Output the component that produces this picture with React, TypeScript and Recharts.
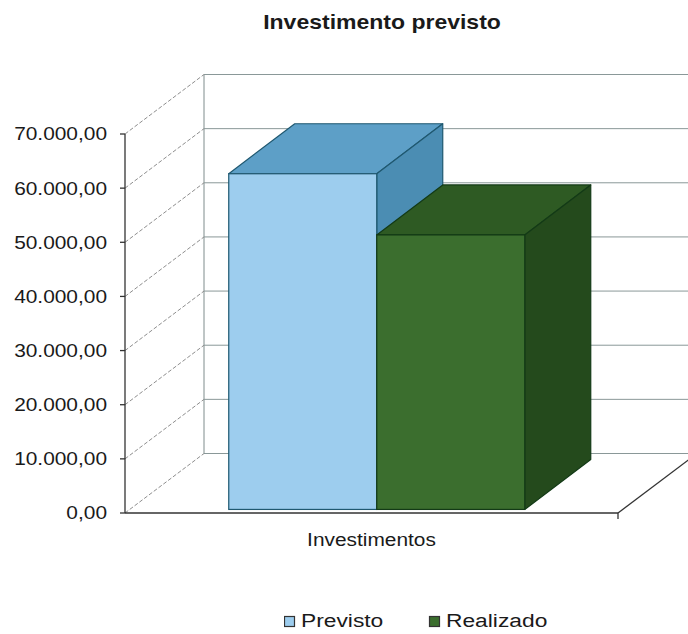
import React from 'react';
import { BarChart, Bar, XAxis, YAxis, CartesianGrid, Legend } from 'recharts';

// ---- data ----
const chartTitle = 'Investimento previsto';
const categories = ['Investimentos'];
const previstoValues = [62000];
const realizadoValues = [50700];
const yTicks = [0, 10000, 20000, 30000, 40000, 50000, 60000, 70000];
const seriesNames = ['Previsto', 'Realizado'];

const data = categories.map((c, i) => ({
  name: c,
  [seriesNames[0]]: previstoValues[i],
  [seriesNames[1]]: realizadoValues[i],
}));

// ---- styling constants (3D look) ----
const WALL_DX = 79;
const WALL_DY = 59.5;
const BAR_DX = 66;
const BAR_DY = 50;
const BAR_SHIFT = 0.06;
const FONT = '"Liberation Sans", Arial, sans-serif';
const TEXT = '#1a1a1a';

const fmt = (v: number) =>
  Math.round(v).toString().replace(/\B(?=(\d{3})+(?!\d))/g, '.') + ',00';

const gridLine = (p: any) => {
  const { x1, y1, x2, index } = p;
  const pts: number[] | undefined = p.horizontalPoints;
  const top = pts && pts.length ? Math.min(...pts) : p.y;
  const bottom = pts && pts.length ? Math.max(...pts) : p.y + p.height;
  const isBottom = Math.abs(y1 - bottom) < 0.5;
  return (
    <g key={`hg-${index}`}>
      <line x1={x1} y1={y1} x2={x1 + WALL_DX} y2={y1 - WALL_DY} stroke="#8e8e8e" strokeDasharray="4 2" />
      <line x1={x1 + WALL_DX} y1={y1 - WALL_DY} x2={x2 + WALL_DX} y2={y1 - WALL_DY} stroke="#8a9898" />
      {isBottom && (
        <>
          <line x1={x1 + WALL_DX} y1={y1 - WALL_DY} x2={x1 + WALL_DX} y2={top - WALL_DY} stroke="#7e8c8c" />
          <line x1={x2} y1={y1} x2={x2 + WALL_DX} y2={y1 - WALL_DY} stroke="#333" strokeWidth={1.3} />
          <line x1={x2} y1={y1} x2={x2} y2={y1 + 6} stroke="#333" strokeWidth={1.3} />
        </>
      )}
    </g>
  );
};

const make3D = (topColor: string, sideColor: string, edge: string) => (p: any) => {
  const { x, y, width, height, fill } = p;
  if (width == null || height == null) return <g />;
  const fx = x + WALL_DX * BAR_SHIFT;
  const fy = y - WALL_DY * BAR_SHIFT;
  const topPts = `${fx},${fy} ${fx + BAR_DX},${fy - BAR_DY} ${fx + width + BAR_DX},${fy - BAR_DY} ${fx + width},${fy}`;
  const sidePts = `${fx + width},${fy} ${fx + width + BAR_DX},${fy - BAR_DY} ${fx + width + BAR_DX},${fy + height - BAR_DY} ${fx + width},${fy + height}`;
  return (
    <g>
      <polygon points={topPts} fill={topColor} stroke={edge} strokeWidth={1.2} strokeLinejoin="round" />
      <polygon points={sidePts} fill={sideColor} stroke={edge} strokeWidth={1.2} strokeLinejoin="round" />
      <rect x={fx} y={fy} width={width} height={height} fill={fill} stroke={edge} strokeWidth={1.2} />
    </g>
  );
};

const YTick = (p: any) => {
  const { x, y, payload } = p;
  return (
    <g transform={`translate(${x},${y}) scale(1.16,1)`}>
      <text x={0} y={0} dy="0.355em" textAnchor="end" fontFamily={FONT} fontSize={18} fill={TEXT}>
        {fmt(payload.value)}
      </text>
    </g>
  );
};

const XTick = (p: any) => {
  const { x, y, payload } = p;
  return (
    <g transform={`translate(${x},${y}) scale(1.16,1)`}>
      <text x={0} y={0} dy="0.71em" textAnchor="middle" fontFamily={FONT} fontSize={18} fill={TEXT}>
        {payload.value}
      </text>
    </g>
  );
};

const LegendContent = (props: any) => {
  const payload = props.payload || [];
  return (
    <svg width={300} height={30} style={{ display: 'block' }}>
      {payload.map((entry: any, i: number) => (
        <g key={`lg-${i}`} transform={`translate(${i * 145},0)`}>
          <rect x={0.5} y={10.5} width={10} height={10} fill={entry.color} stroke="#333" strokeWidth={1.2} />
          <g transform="translate(17,21) scale(1.2,1)">
            <text x={0} y={0} fontFamily={FONT} fontSize={19} fill={TEXT}>
              {entry.value}
            </text>
          </g>
        </g>
      ))}
    </svg>
  );
};

export default function App() {
  return (
    <div style={{ position: 'absolute', left: 0, top: 0, width: 688, height: 634, background: '#fff' }}>
      <svg width={688} height={50} style={{ position: 'absolute', left: 0, top: 0 }}>
        <g transform="translate(382,29) scale(1.18,1)">
          <text x={0} y={0} textAnchor="middle" fontFamily={FONT} fontSize={19.5} fontWeight="bold" fill={TEXT}>
            {chartTitle}
          </text>
        </g>
      </svg>
      <BarChart
        width={688}
        height={634}
        data={data}
        margin={{ top: 134, right: 70, bottom: 91, left: 0 }}
        barGap={0}
        barSize={148}
        style={{ position: 'absolute', left: 0, top: 0 }}
      >
        <CartesianGrid horizontal={gridLine} vertical={false} />
        <XAxis
          dataKey="name"
          tickLine={false}
          tickSize={0}
          tickMargin={20}
          height={30}
          axisLine={{ stroke: '#333', strokeWidth: 1.3 }}
          tick={<XTick />}
          interval={0}
        />
        <YAxis
          domain={[0, 70000]}
          ticks={yTicks}
          interval={0}
          width={125}
          tickSize={5}
          tickMargin={13}
          axisLine={{ stroke: '#333', strokeWidth: 1.3 }}
          tickLine={{ stroke: '#333', strokeWidth: 1.3 }}
          tick={<YTick />}
        />
        <Legend
          layout="horizontal"
          verticalAlign="middle"
          align="center"
          content={<LegendContent />}
          wrapperStyle={{ position: 'absolute', left: 284, top: 606, width: 300, height: 30 }}
        />
        <Bar
          dataKey={seriesNames[0]}
          fill="#9dcdee"
          isAnimationActive={false}
          shape={make3D('#5d9fc7', '#4b8db3', '#1f5870')}
        />
        <Bar
          dataKey={seriesNames[1]}
          fill="#3b6e2e"
          isAnimationActive={false}
          shape={make3D('#2e5a23', '#244a1c', '#133a16')}
        />
      </BarChart>
    </div>
  );
}
